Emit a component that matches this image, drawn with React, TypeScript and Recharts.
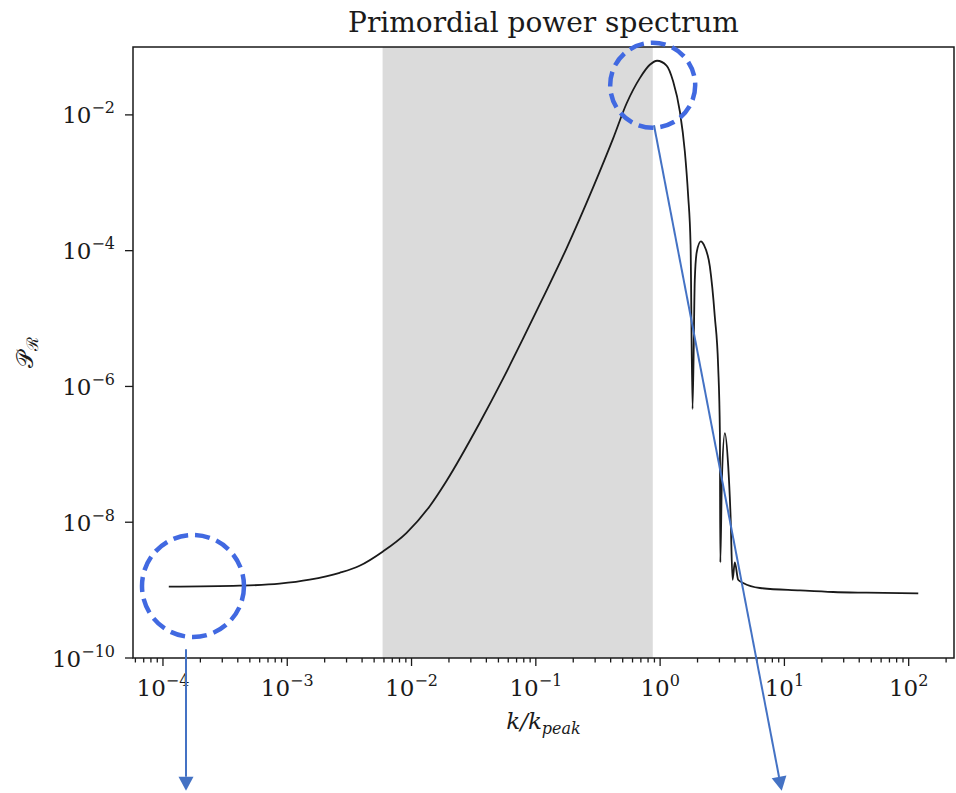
import React from 'react';
import { LineChart, Line, XAxis, YAxis, ReferenceArea } from 'recharts';

// k / k_peak
const kValues = [
  1.114e-4, 4.13e-4, 8.67e-4, 1.514e-3, 2.64e-3, 3.82e-3, 5.89e-3, 9.08e-3, 1.4e-2, 1.905e-2,
  3.53e-2, 5.45e-2, 7.89e-2, 0.1143, 0.1763, 0.289, 0.419, 0.536, 0.687, 0.826,
  0.946, 1.127, 1.274, 1.442, 1.581, 1.679, 1.758, 1.824, 1.901, 1.973,
  2.128, 2.249, 2.512, 2.754, 2.931, 3.027, 3.05, 3.14, 3.319, 3.532,
  3.69, 3.828, 3.99, 4.246, 4.656, 6.353, 13.34, 24.7, 45.9, 119.4,
];

// P_R at each k
const powerValues = [
  1.122e-9, 1.161e-9, 1.242e-9, 1.422e-9, 1.8e-9, 2.286e-9, 3.715e-9, 6.93e-9, 1.722e-8, 4.02e-8,
  2.897e-7, 1.303e-6, 5.06e-6, 2.032e-5, 1.074e-4, 8.55e-4, 4.51e-3, 1.459e-2, 3.48e-2, 5.47e-2,
  6.27e-2, 5.33e-2, 3.1e-2, 1.122e-2, 2.89e-3, 6.65e-4, 1.222e-4, 4.65e-7, 3.72e-5, 9.64e-5,
  1.368e-4, 1.222e-4, 5.85e-5, 1.074e-5, 1.972e-6, 2.06e-7, 2.56e-9, 4.23e-8, 2.06e-7, 6.64e-8,
  1.216e-8, 1.422e-9, 2.56e-9, 1.422e-9, 1.274e-9, 1.074e-9, 9.91e-10, 9.38e-10, 9.16e-10, 8.93e-10,
];

const xMajorTicks = [1e-4, 1e-3, 1e-2, 1e-1, 1, 10, 100];
const xTickExponents = ['\u22124', '\u22123', '\u22122', '\u22121', '0', '1', '2'];
const yMajorTicks = [1e-10, 1e-8, 1e-6, 1e-4, 1e-2];
const yTickExponents = ['\u221210', '\u22128', '\u22126', '\u22124', '\u22122'];
const shadedBand = [5.85e-3, 0.873];

const xDomain = [5.74e-5, 231.5];
const yDomain = [1e-10, 1e-1];

const rows = kValues.map((k, i) => ({ k, p: powerValues[i] }));

// log minor ticks (2..9 x decade) inside the domain
const xMinorTicks: number[] = [];
for (let e = -5; e <= 2; e++) {
  for (let m = 2; m <= 9; m++) {
    const v = m * Math.pow(10, e);
    if (v >= xDomain[0] && v <= xDomain[1]) xMinorTicks.push(v);
  }
}
const xTicks = [...xMajorTicks, ...xMinorTicks].sort((a, b) => a - b);

const SERIF = '"DejaVu Serif", serif';
const INK = '#1a1a1a';

const renderXTick = (props: any) => {
  const { x, y, payload } = props;
  const idx = xMajorTicks.indexOf(payload.value);
  const major = idx >= 0;
  return (
    <g>
      <line x1={x} x2={x} y1={y} y2={y + (major ? 8 : 4.5)} stroke={INK} strokeWidth={1.3} />
      {major && (
        <text x={x} y={y + 38} textAnchor="middle" fontFamily={SERIF} fontSize={23} fill={INK}>
          10<tspan dy={-10} fontSize={16}>{xTickExponents[idx]}</tspan>
        </text>
      )}
    </g>
  );
};

const renderYTick = (props: any) => {
  const { x, y, payload } = props;
  const idx = yMajorTicks.indexOf(payload.value);
  return (
    <g>
      <line x1={x - 8} x2={x} y1={y} y2={y} stroke={INK} strokeWidth={1.3} />
      <text x={x - 18} y={y + 8.5} textAnchor="end" fontFamily={SERIF} fontSize={23} fill={INK}>
        10<tspan dy={-10} fontSize={16}>{yTickExponents[idx]}</tspan>
      </text>
    </g>
  );
};

const arrow = (x1: number, y1: number, x2: number, y2: number) => {
  const dx = x2 - x1;
  const dy = y2 - y1;
  const len = Math.sqrt(dx * dx + dy * dy);
  const ux = dx / len;
  const uy = dy / len;
  const hl = 14;
  const hw = 7.5;
  const bx = x2 - ux * hl;
  const by = y2 - uy * hl;
  return (
    <g>
      <line x1={x1} y1={y1} x2={bx} y2={by} stroke="#4472c4" strokeWidth={2} />
      <polygon
        points={`${x2},${y2} ${bx - uy * hw},${by + ux * hw} ${bx + uy * hw},${by - ux * hw}`}
        fill="#4472c4"
      />
    </g>
  );
};

const App = () => {
  return (
    <div style={{ position: 'absolute', left: 0, top: 0, width: 956, height: 793, background: '#fff' }}>
      <LineChart
        width={956}
        height={793}
        data={rows}
        margin={{ top: 47, right: 2, left: 13, bottom: 75 }}
      >
        <XAxis
          dataKey="k"
          type="number"
          scale="log"
          domain={xDomain}
          allowDataOverflow
          ticks={xTicks}
          interval={0}
          tick={renderXTick}
          tickLine={false}
          axisLine={false}
          tickSize={0}
          tickMargin={0}
          height={60}
          label={{
            content: (p: any) => {
              const vb = p.viewBox;
              const cx = vb.x + vb.width / 2;
              return (
                <text x={cx} y={729} textAnchor="middle" fontFamily={SERIF} fontStyle="italic" fontSize={23} fill={INK}>
                  k/k<tspan dy={5} fontSize={16}>peak</tspan>
                </text>
              );
            },
          }}
        />
        <YAxis
          type="number"
          scale="log"
          domain={yDomain}
          allowDataOverflow
          ticks={yMajorTicks}
          interval={0}
          tick={renderYTick}
          tickLine={false}
          axisLine={false}
          tickSize={0}
          tickMargin={0}
          width={120}
          label={{
            content: (p: any) => {
              const vb = p.viewBox;
              const cy = vb.y + vb.height / 2;
              return (
                <text
                  x={33}
                  y={cy}
                  transform={`rotate(-90, 33, ${cy})`}
                  textAnchor="middle"
                  fontFamily={SERIF}
                  fontSize={23}
                  fill={INK}
                >
                  {'\u{1D4AB}'}<tspan dy={5} fontSize={16}>{'\u211B'}</tspan>
                </text>
              );
            },
          }}
        />
        <ReferenceArea x1={shadedBand[0]} x2={shadedBand[1]} fill="#dbdbdb" fillOpacity={1} stroke="none" ifOverflow="hidden" />
        <Line
          type="monotone"
          dataKey="p"
          stroke={INK}
          strokeWidth={1.8}
          dot={false}
          activeDot={false}
          isAnimationActive={false}
        />
        <ReferenceArea
          x1={xDomain[0]}
          x2={xDomain[1]}
          y1={yDomain[0]}
          y2={yDomain[1]}
          fill="none"
          stroke={INK}
          strokeWidth={1.5}
          ifOverflow="visible"
        />
      </LineChart>
      <svg width={956} height={793} style={{ position: 'absolute', left: 0, top: 0, pointerEvents: 'none' }}>
        <text x={543.5} y={32} textAnchor="middle" fontFamily={SERIF} fontSize={28} fill={INK}>
          Primordial power spectrum
        </text>
        <circle cx={193} cy={586} r={51} fill="none" stroke="#4169e1" strokeWidth={4.5} strokeDasharray="15 7" />
        <circle cx={652.7} cy={85.2} r={42.5} fill="none" stroke="#4169e1" strokeWidth={4.5} strokeDasharray="15 7" />
        {arrow(186, 649.3, 186, 790.7)}
        {arrow(654, 125.3, 781.7, 790.7)}
      </svg>
    </div>
  );
};

export default App;
